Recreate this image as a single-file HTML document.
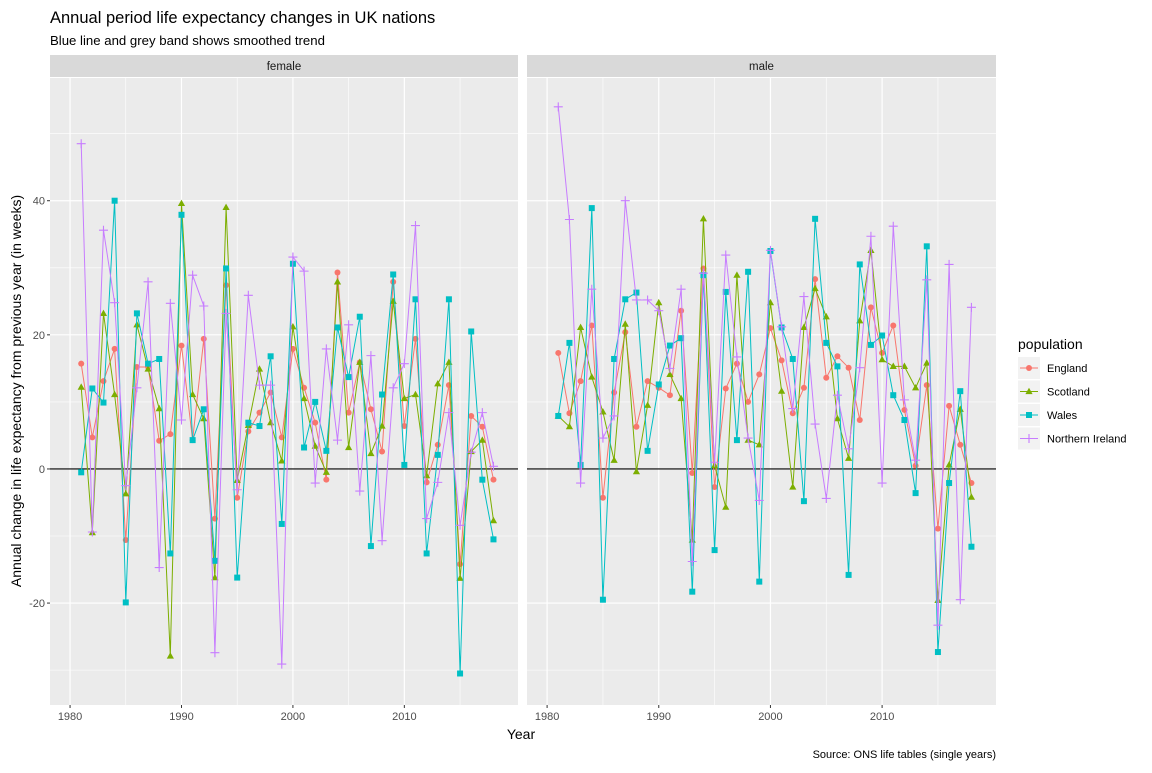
<!DOCTYPE html>
<html><head><meta charset="utf-8"><style>
body{margin:0;background:#fff;font-family:"Liberation Sans",Arial,sans-serif;}
svg text{font-family:"Liberation Sans",Arial,sans-serif;}
</style></head><body>
<svg id="chart" width="1152" height="768" xmlns="http://www.w3.org/2000/svg">
<rect width="1152" height="768" fill="#fff"/>
<text x="50" y="23" font-size="16.5" fill="#000">Annual period life expectancy changes in UK nations</text>
<text x="50" y="45" font-size="13.2" fill="#000">Blue line and grey band shows smoothed trend</text>
<text transform="translate(21,391) rotate(-90)" text-anchor="middle" font-size="14">Annual change in life expectancy from previous year (in weeks)</text>
<text x="521" y="739" text-anchor="middle" font-size="14">Year</text>
<text x="996" y="758" text-anchor="end" font-size="11">Source: ONS life tables (single years)</text>
<g id="panels"></g>
<g id="legend">
<text x="1018" y="349" font-size="14">population</text>
</g>
</svg>
<script>
const years = [];
for (let y = 1981; y <= 2018; y++) years.push(y);
const femaleEngland = [15.7,4.7,13.1,17.9,-10.6,15.2,15.2,4.2,5.2,18.4,4.3,19.4,-7.4,27.4,-4.3,5.6,8.4,11.4,4.7,17.9,12.1,6.9,-1.6,29.3,8.4,15.9,8.9,2.6,27.9,6.4,19.4,-2,3.6,12.5,-14.2,7.9,6.3,-1.6];
const femaleScotland = [12.2,-9.5,23.2,11.1,-3.7,21.5,14.9,9,-27.9,39.6,11.1,7.5,-16.2,39,-1.7,6.5,14.9,6.9,1.2,21.2,10.5,3.4,-0.5,27.9,3.2,15.9,2.3,6.4,25,10.5,11.1,-1,12.7,15.9,-16.3,2.6,4.3,-7.7];
const femaleWales = [-0.5,12,9.9,40,-19.9,23.2,15.7,16.4,-12.6,37.9,4.3,8.9,-13.7,29.9,-16.2,6.9,6.4,16.8,-8.2,30.6,3.2,10,2.7,21.1,13.7,22.7,-11.5,11.1,29,0.6,25.3,-12.6,2.1,25.3,-30.5,20.5,-1.6,-10.5];
const femaleNI = [48.5,-9.4,35.6,24.8,-2.5,12.1,27.9,-14.7,24.7,7.3,28.9,24.3,-27.4,23.2,-3.1,25.9,12.5,12.5,-29.1,31.6,29.5,-2.1,17.9,4.3,21.5,-3.3,16.9,-10.7,12.1,15.7,36.3,-7.4,-2,8.4,-8.4,2.5,8.4,0.4];
const maleEngland = [17.3,8.3,13.1,21.4,-4.3,11.4,20.4,6.3,13.1,12.1,11,23.6,-0.6,29.9,-2.7,12,15.7,10,14.1,21,16.2,8.3,12.1,28.3,13.6,16.8,15.1,7.3,24.1,17.3,21.4,8.8,0.5,12.5,-8.9,9.4,3.6,-2.1];
const maleScotland = [7.9,6.3,21.1,13.7,8.5,1.3,21.6,-0.4,9.5,24.8,14.1,10.5,-10.6,37.3,0.5,-5.7,28.9,4.3,3.6,24.8,11.6,-2.7,21.1,26.9,22.7,7.5,1.6,22.1,32.6,16.3,15.3,15.3,12.1,15.8,-19.6,0.6,8.9,-4.2];
const maleWales = [7.9,18.8,0.6,38.9,-19.5,16.4,25.3,26.3,2.7,12.6,18.4,19.5,-18.3,28.9,-12.1,26.4,4.3,29.4,-16.8,32.5,21.1,16.4,-4.8,37.3,18.8,15.3,-15.8,30.5,18.5,19.9,11,7.3,-3.6,33.2,-27.3,-2.1,11.6,-11.6];
const maleNI = [54,37.2,-2.1,26.8,4.6,7.9,40,25.2,25.2,23.6,15,26.8,-13.8,29.2,1,31.9,16.7,4.6,-4.7,32.6,21.2,9,25.7,6.7,-4.4,11,3,15.1,34.7,-2.1,36.2,10.3,1.3,28.2,-23.3,30.5,-19.5,24.1];
const panelNames = ["female","male"];
const seriesNames = ["England","Scotland","Wales","Northern Ireland"];
const colors = ["#F8766D","#7CAE00","#00BFC4","#C77CFF"];
const shapes = ["circle","triangle","square","plus"];
const panelData = [[femaleEngland,femaleScotland,femaleWales,femaleNI],[maleEngland,maleScotland,maleWales,maleNI]];
const yTicks = [-20,0,20,40];
const yMinor = [-30,-10,10,30,50];
const xTicks = [1980,1990,2000,2010];
const xMinor = [1985,1995,2005,2015];

const NS = "http://www.w3.org/2000/svg";
function mk(tag, attrs, parent){const e=document.createElementNS(NS,tag);for(const k in attrs)e.setAttribute(k,attrs[k]);parent.appendChild(e);return e;}
const pTop=78, pBottom=705;
const yDom=[-35.2,58.3];
function yScale(v){return pBottom-(v-yDom[0])/(yDom[1]-yDom[0])*(pBottom-pTop);}
const panelsG=document.getElementById('panels');
const lefts=[50,527], widths=[468,469];
const xDom=[1978.2,2020.2];

function drawShape(shape,cx,cy,col,g){
  let e;
  if(shape==="circle"){e=mk('circle',{cx:cx,cy:cy,r:3,fill:col},g);}
  else if(shape==="triangle"){e=mk('polygon',{points:`${cx},${cy-3.8} ${cx-3.6},${cy+2.6} ${cx+3.6},${cy+2.6}`,fill:col},g);}
  else if(shape==="square"){e=mk('rect',{x:cx-3,y:cy-3,width:6,height:6,fill:col},g);}
  else {e=mk('path',{d:`M${cx-4.5},${cy}H${cx+4.5}M${cx},${cy-4.5}V${cy+4.5}`,stroke:col,'stroke-width':1.1,fill:'none'},g);}
  return e;
}

panelNames.forEach((pn,pi)=>{
  const L=lefts[pi], W=widths[pi];
  const xs=v=>L+(v-xDom[0])/(xDom[1]-xDom[0])*W;
  const g=mk('g',{},panelsG);
  
  
  const strip=mk('rect',{x:L,y:55,width:W,height:22,fill:'#D9D9D9'},g);
  
  
  const st=mk('text',{x:L+W/2,y:70,'text-anchor':'middle','font-size':11.5,fill:'#1A1A1A'},g);
  st.textContent=pn;
  
  
  const bg=mk('rect',{x:L,y:pTop,width:W,height:pBottom-pTop,fill:'#EBEBEB'},g);
  
  
  yMinor.forEach(v=>{mk('line',{x1:L,x2:L+W,y1:yScale(v),y2:yScale(v),stroke:'#fff','stroke-width':0.6},g);});
  xMinor.forEach(v=>{mk('line',{x1:xs(v),x2:xs(v),y1:pTop,y2:pBottom,stroke:'#fff','stroke-width':0.6},g);});
  yTicks.forEach(v=>{mk('line',{x1:L,x2:L+W,y1:yScale(v),y2:yScale(v),stroke:'#fff','stroke-width':1.2},g);});
  xTicks.forEach(v=>{
    mk('line',{x1:xs(v),x2:xs(v),y1:pTop,y2:pBottom,stroke:'#fff','stroke-width':1.2},g);
    mk('line',{x1:xs(v),x2:xs(v),y1:pBottom,y2:pBottom+3,stroke:'#333','stroke-width':1},g);
    const t=mk('text',{x:xs(v),y:pBottom+15,'text-anchor':'middle','font-size':11,fill:'#4D4D4D'},g);
    t.textContent=v;
    
    
  });
  if(pi===0){
    yTicks.forEach(v=>{
      mk('line',{x1:L-3,x2:L,y1:yScale(v),y2:yScale(v),stroke:'#333','stroke-width':1},g);
      const t=mk('text',{x:L-5,y:yScale(v)+4,'text-anchor':'end','font-size':11,fill:'#4D4D4D'},g);
      t.textContent=v;
      
      
    });
  }
  const zl=mk('line',{x1:L,x2:L+W,y1:yScale(0),y2:yScale(0),stroke:'#000','stroke-width':1.1},g);
  
  
  panelData[pi].forEach((ser,si)=>{
    const sg=mk('g',{},g);
    
    
    const pts=ser.map((v,i)=>xs(years[i]).toFixed(1)+','+yScale(v).toFixed(1)).join(' ');
    mk('polyline',{points:pts,fill:'none',stroke:colors[si],'stroke-width':1},sg);
    ser.forEach((v,i)=>{
      const p=drawShape(shapes[si],xs(years[i]),yScale(v),colors[si],sg);
      
      
    });
  });
});

const lg=document.getElementById('legend');
seriesNames.forEach((n,i)=>{
  const y=357+i*23.5;
  const eg=mk('g',{},lg);
  
  
  mk('rect',{x:1018,y:y,width:22,height:22,fill:'#F2F2F2'},eg);
  mk('line',{x1:1020,x2:1038,y1:y+11,y2:y+11,stroke:colors[i],'stroke-width':1},eg);
  drawShape(shapes[i],1029,y+11,colors[i],eg);
  const t=mk('text',{x:1047,y:y+15,'font-size':11,fill:'#000'},eg);
  t.textContent=n;
});
</script>
</body></html>
